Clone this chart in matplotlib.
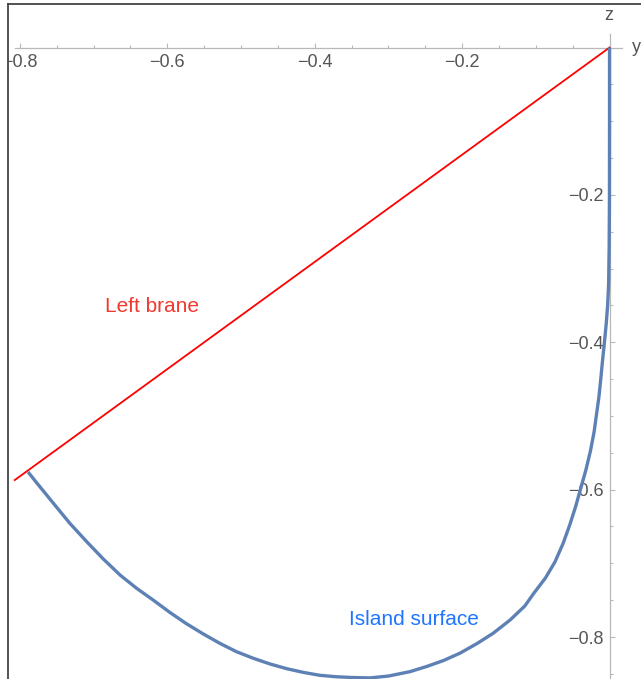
import matplotlib
matplotlib.use('Agg')
import matplotlib.pyplot as plt
from matplotlib.lines import Line2D
from matplotlib.patches import Rectangle
from matplotlib.ticker import FixedLocator
import numpy as np

plt.rcParams['font.family'] = ['Liberation Sans', 'DejaVu Sans']
plt.rcParams['axes.unicode_minus'] = True

# left brane: straight line from the origin
brane_x = [0.0, -0.807]
brane_z = [0.0, -0.587]

# island surface
island_x = [-0.789, -0.777, -0.755, -0.732, -0.709, -0.687, -0.664, -0.6415,
            -0.619, -0.596, -0.574, -0.551, -0.528, -0.506, -0.483, -0.461,
            -0.438, -0.4155, -0.393, -0.370, -0.348, -0.325, -0.300, -0.2707,
            -0.248, -0.2255, -0.203, -0.180, -0.158, -0.135, -0.115, -0.103,
            -0.087, -0.074, -0.063, -0.054, -0.046, -0.039, -0.032, -0.026,
            -0.021, -0.0174, -0.0145, -0.012, -0.0095, -0.007, -0.0045, -0.0025,
            -0.0012, -0.0005, -0.0001, 0.0, 0.0]
island_z = [-0.576, -0.591, -0.618, -0.646, -0.671, -0.694, -0.716, -0.734,
            -0.750, -0.767, -0.782, -0.796, -0.809, -0.820, -0.829, -0.8365,
            -0.843, -0.848, -0.852, -0.854, -0.855, -0.8555, -0.853, -0.847,
            -0.840, -0.832, -0.822, -0.809, -0.795, -0.777, -0.758, -0.741,
            -0.720, -0.698, -0.673, -0.648, -0.623, -0.598, -0.573, -0.548,
            -0.522, -0.496, -0.475, -0.451, -0.425, -0.401, -0.375, -0.349,
            -0.320, -0.270, -0.200, -0.100, 0.0]

x_ticks = [-0.8, -0.6, -0.4, -0.2]
z_ticks = [-0.8, -0.6, -0.4, -0.2]

W, H = 641, 679
fig = plt.figure(figsize=(W / 100, H / 100), dpi=100)
ax = fig.add_axes([0, 0, 1, 1])
ax.set_xlim(-0.827, 0.0427)
ax.set_ylim(-0.857, 0.0645)

ax.plot(brane_x, brane_z, color='#ff0000', lw=1.3, zorder=3)
ax.plot(island_x, island_z, color='#5e81b5', lw=2.4, zorder=4,
        solid_capstyle='butt', solid_joinstyle='round')

ax.text(-0.6845, -0.3585, 'Left brane', color='#f2392e', fontsize=15,
        ha='left', va='baseline')
ax.text(-0.3535, -0.7836, 'Island surface', color='#1f75fe', fontsize=15,
        ha='left', va='baseline')

# axes through the origin, Mathematica style
for s in ['top', 'right']:
    ax.spines[s].set_visible(False)
ax.spines['bottom'].set_position(('data', 0))
ax.spines['left'].set_position(('data', 0))
ax.spines['bottom'].set_bounds(-0.807, 0.017)
ax.spines['left'].set_bounds(-0.857, 0.019)
for s in ['bottom', 'left']:
    ax.spines[s].set_color('#b8b8b8')
    ax.spines[s].set_linewidth(0.9)
    ax.spines[s].set_zorder(1)

ax.xaxis.set_major_locator(FixedLocator(x_ticks))
ax.yaxis.set_major_locator(FixedLocator(z_ticks))
ax.xaxis.set_minor_locator(FixedLocator(np.arange(-0.80, -0.01, 0.05)))
ax.yaxis.set_minor_locator(FixedLocator(np.arange(-0.85, -0.01, 0.05)))
ax.tick_params(which='both', direction='in', color='#b8b8b8', labelcolor='#555555',
               labelsize=13, width=0.8)
ax.tick_params(which='major', length=3.5)
ax.tick_params(which='minor', length=2)
ax.tick_params(axis='x', pad=5)
ax.tick_params(axis='y', pad=4)

ax.text(-0.0015, 0.044, 'z', color='#555555', fontsize=13, ha='center', va='center')
ax.text(0.030, 0.0, 'y', color='#555555', fontsize=13, ha='left', va='center')

# notebook frame on the left and top
fx = 7.5 / W
fy = 1 - 3.5 / H
fig.add_artist(Rectangle((0, 0), fx, 1, transform=fig.transFigure,
                         facecolor='white', edgecolor='none', zorder=5))
fig.add_artist(Rectangle((0, fy), 1, 1 - fy, transform=fig.transFigure,
                         facecolor='white', edgecolor='none', zorder=5))
fig.add_artist(Line2D([fx, fx], [0, fy], transform=fig.transFigure,
                      color='#444444', lw=1.3, zorder=6))
fig.add_artist(Line2D([fx, 1], [fy, fy], transform=fig.transFigure,
                      color='#444444', lw=1.3, zorder=6))

fig.savefig('out.png', dpi=100)
